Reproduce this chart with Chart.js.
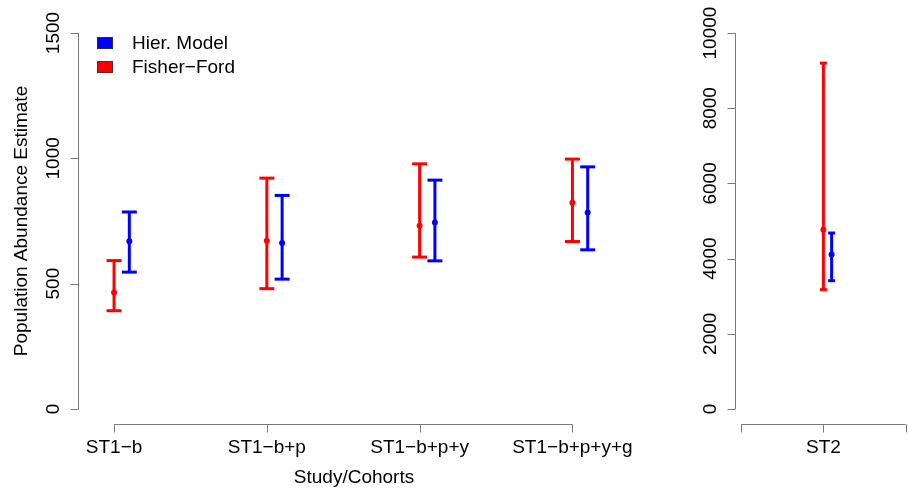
<!DOCTYPE html>
<html>
<head>
<meta charset="utf-8">
<script src="https://cdn.jsdelivr.net/npm/chart.js@4"></script>
<style>
  html, body { margin: 0; padding: 0; background: #fff; }
  #wrap { position: relative; width: 908px; height: 488px; overflow: hidden; }
  canvas { position: absolute; top: 0; }
</style>
</head>
<body>
<div id="wrap">
  <canvas id="left" width="640" height="488" style="left:0px"></canvas>
  <canvas id="right" width="288" height="488" style="left:620px"></canvas>
</div>
<script>
// ---- Data (left panel: Study 1 cohorts) ----
const categories = ['ST1\u2212b', 'ST1\u2212b+p', 'ST1\u2212b+p+y', 'ST1\u2212b+p+y+g'];
const hierEst = [669, 662, 744, 784];
const hierLow = [546, 518, 591, 635];
const hierHigh = [786, 852, 913, 966];
const ffEst = [465, 671, 731, 823];
const ffLow = [392, 480, 606, 668];
const ffHigh = [592, 921, 978, 997];
const leftTicks = [0, 500, 1000, 1500];

// ---- Data (right panel: Study 2) ----
const categories2 = ['ST2'];
const hierEst2 = [4112];
const hierLow2 = [3412];
const hierHigh2 = [4681];
const ffEst2 = [4769];
const ffLow2 = [3173];
const ffHigh2 = [9200];
const rightTicks = [0, 2000, 4000, 6000, 8000, 10000];

const seriesNames = ['Hier. Model', 'Fisher\u2212Ford'];
const RED = '#FF0000', BLUE = '#0000FF';
const AXIS = '#7a7a7a';
const FONT = '19px "Liberation Sans", Arial, Helvetica, sans-serif';

function whiskers(pos, lo, hi) {
  const d = [];
  pos.forEach((x, i) => { d.push({x: x, y: lo[i]}); d.push({x: x, y: hi[i]}); d.push({x: x, y: null}); });
  return d;
}
function pts(pos, v) { return pos.map((x, i) => ({x: x, y: v[i]})); }

function buildDatasets(pos, off, est1, lo1, hi1, est2, lo2, hi2, capR) {
  // series 1 = Fisher-Ford (red) at pos, series 2 = Hier (blue) at pos+off
  const posB = pos.map(p => p + off);
  const ds = [];
  const add = (p, est, lo, hi, col) => {
    ds.push({type: 'line', data: whiskers(p, lo, hi), borderColor: col, borderWidth: 3,
      pointRadius: 0, spanGaps: false, fill: false, borderCapStyle: 'butt'});
    ds.push({type: 'scatter', data: pts(p, lo).concat(pts(p, hi)), pointStyle: 'line',
      pointRadius: capR, pointBorderWidth: 3, borderColor: col, backgroundColor: col, showLine: false});
    ds.push({type: 'scatter', data: pts(p, est), pointStyle: 'circle', pointRadius: 3,
      pointBorderWidth: 0, backgroundColor: col, borderColor: col, showLine: false});
  };
  add(pos, est1, lo1, hi1, RED);
  add(posB, est2, lo2, hi2, BLUE);
  return ds;
}

function rAxesPlugin(cfg) {
  return {
    id: 'raxes',
    afterDraw(chart) {
      const ctx = chart.ctx, xs = chart.scales.x, ys = chart.scales.y, ca = chart.chartArea;
      ctx.save();
      ctx.strokeStyle = AXIS; ctx.lineWidth = 1;
      // y axis
      const ax = Math.round(ca.left) + 0.5;
      ctx.beginPath();
      ctx.moveTo(ax, ys.getPixelForValue(cfg.yTicks[0]));
      ctx.lineTo(ax, ys.getPixelForValue(cfg.yTicks[cfg.yTicks.length - 1]));
      cfg.yTicks.forEach(t => { const y = Math.round(ys.getPixelForValue(t)) + 0.5; ctx.moveTo(ax, y); ctx.lineTo(ax - 8, y); });
      ctx.stroke();
      ctx.fillStyle = '#000'; ctx.font = FONT;
      ctx.textAlign = 'center'; ctx.textBaseline = 'middle';
      cfg.yTicks.forEach(t => {
        const y = ys.getPixelForValue(t);
        ctx.save(); ctx.translate(ax - 25, y); ctx.rotate(-Math.PI / 2);
        ctx.fillText(String(t), 0, 0); ctx.restore();
      });
      // x axis
      const by = Math.round(ca.bottom) + 0.5;
      ctx.beginPath();
      ctx.moveTo(xs.getPixelForValue(cfg.xLine[0]), by);
      ctx.lineTo(xs.getPixelForValue(cfg.xLine[1]), by);
      cfg.xTicks.forEach(t => { const x = Math.round(xs.getPixelForValue(t)) + 0.5; ctx.moveTo(x, by); ctx.lineTo(x, by + 8); });
      ctx.stroke();
      ctx.textBaseline = 'alphabetic';
      cfg.xLabels.forEach((lab, i) => {
        ctx.fillText(lab, xs.getPixelForValue(cfg.xLabelPos[i]), 453);
      });
      if (cfg.xTitle) ctx.fillText(cfg.xTitle, cfg.xTitleX, 483);
      if (cfg.yTitle) {
        ctx.save(); ctx.translate(27, (ca.top + ca.bottom) / 2); ctx.rotate(-Math.PI / 2);
        ctx.textBaseline = 'alphabetic';
        ctx.fillText(cfg.yTitle, 0, 0); ctx.restore();
      }
      if (cfg.legend) {
        const items = [[seriesNames[0], BLUE, 43], [seriesNames[1], RED, 67]];
        ctx.textAlign = 'left'; ctx.textBaseline = 'middle';
        items.forEach(([name, col, y]) => {
          ctx.fillStyle = col; ctx.fillRect(97, y - 6, 16, 12);
          ctx.strokeStyle = '#333'; ctx.lineWidth = 0.8; ctx.strokeRect(97.5, y - 5.5, 15, 11);
          ctx.fillStyle = '#000'; ctx.fillText(name, 132, y + 1);
        });
      }
      ctx.restore();
    }
  };
}

const commonOpts = (xmin, xmax, ymin, ymax, padding) => ({
  responsive: false, animation: false, devicePixelRatio: 1,
  layout: {padding: padding, autoPadding: false},
  plugins: {legend: {display: false}, tooltip: {enabled: false}},
  scales: {
    x: {type: 'linear', min: xmin, max: xmax, display: false},
    y: {type: 'linear', min: ymin, max: ymax, display: false}
  }
});

// Left chart
const leftPos = categories.map((c, i) => i + 1);
new Chart(document.getElementById('left'), {
  data: {datasets: buildDatasets(leftPos, 0.1, ffEst, ffLow, ffHigh, hierEst, hierLow, hierHigh, 7.5)},
  options: commonOpts(0.764, 4.39, -60, 1560, {left: 78, right: 640 - 632, top: 18, bottom: 64}),
  plugins: [rAxesPlugin({
    yTicks: leftTicks, xLine: [1, 4], xTicks: leftPos, xLabels: categories, xLabelPos: leftPos,
    xTitle: 'Study/Cohorts', xTitleX: 354, yTitle: 'Population Abundance Estimate', legend: true
  })]
});

// Right chart
const rightPos = categories2.map((c, i) => i + 1);
new Chart(document.getElementById('right'), {
  data: {datasets: buildDatasets(rightPos, 0.05, ffEst2, ffLow2, ffHigh2, hierEst2, hierLow2, hierHigh2, 3.5)},
  options: commonOpts(0.463, 1.514, -400, 10400, {left: 115, right: 0, top: 18, bottom: 64}),
  plugins: [rAxesPlugin({
    yTicks: rightTicks, xLine: [0.5, 1.5], xTicks: [0.5, 1, 1.5], xLabels: categories2, xLabelPos: rightPos
  })]
});
</script>
</body>
</html>
